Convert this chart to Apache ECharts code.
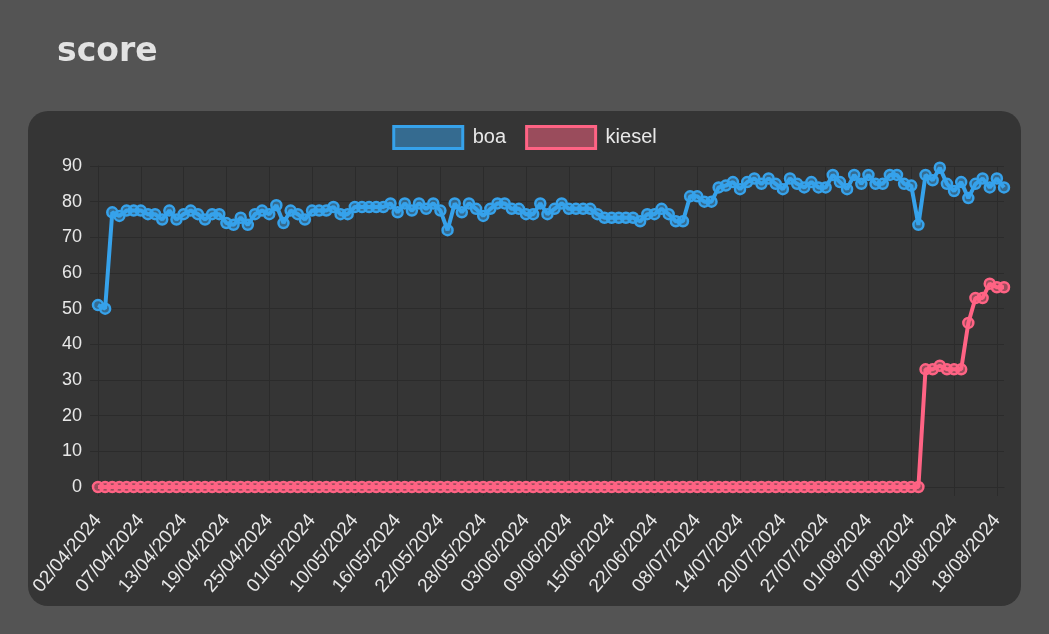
<!DOCTYPE html>
<html>
<head>
<meta charset="utf-8">
<script src="https://cdn.jsdelivr.net/npm/echarts@6/dist/echarts.min.js"></script>
<style>
html,body{margin:0;padding:0;background:#545454;}
#chart{width:1049px;height:634px;}
</style>
</head>
<body>
<div id="chart"></div>
<script>
const titleText = 'score';
const seriesNames = ['boa', 'kiesel'];
const dates = [
  '02/04/2024','03/04/2024','04/04/2024','05/04/2024','05/04/2024','06/04/2024',
  '07/04/2024','08/04/2024','09/04/2024','10/04/2024','11/04/2024','12/04/2024',
  '13/04/2024','14/04/2024','15/04/2024','16/04/2024','17/04/2024','18/04/2024',
  '19/04/2024','20/04/2024','21/04/2024','22/04/2024','23/04/2024','24/04/2024',
  '25/04/2024','26/04/2024','27/04/2024','28/04/2024','29/04/2024','30/04/2024',
  '01/05/2024','02/05/2024','04/05/2024','06/05/2024','08/05/2024','09/05/2024',
  '10/05/2024','11/05/2024','12/05/2024','13/05/2024','14/05/2024','15/05/2024',
  '16/05/2024','17/05/2024','18/05/2024','19/05/2024','20/05/2024','21/05/2024',
  '22/05/2024','23/05/2024','24/05/2024','25/05/2024','26/05/2024','27/05/2024',
  '28/05/2024','29/05/2024','30/05/2024','31/05/2024','01/06/2024','02/06/2024',
  '03/06/2024','04/06/2024','05/06/2024','06/06/2024','07/06/2024','08/06/2024',
  '09/06/2024','10/06/2024','11/06/2024','12/06/2024','13/06/2024','14/06/2024',
  '15/06/2024','16/06/2024','17/06/2024','18/06/2024','19/06/2024','21/06/2024',
  '22/06/2024','24/06/2024','26/06/2024','29/06/2024','02/07/2024','05/07/2024',
  '08/07/2024','09/07/2024','10/07/2024','11/07/2024','12/07/2024','13/07/2024',
  '14/07/2024','15/07/2024','16/07/2024','17/07/2024','18/07/2024','19/07/2024',
  '20/07/2024','21/07/2024','22/07/2024','23/07/2024','24/07/2024','26/07/2024',
  '27/07/2024','28/07/2024','29/07/2024','30/07/2024','31/07/2024','31/07/2024',
  '01/08/2024','02/08/2024','03/08/2024','04/08/2024','05/08/2024','06/08/2024',
  '07/08/2024','08/08/2024','09/08/2024','10/08/2024','11/08/2024','11/08/2024',
  '12/08/2024','13/08/2024','14/08/2024','15/08/2024','16/08/2024','17/08/2024',
  '18/08/2024','19/08/2024'
];
const boa = [
  51, 50, 77, 76, 77.5, 77.5, 77.5, 76.5, 76.5, 75,
  77.5, 75, 76.5, 77.5, 76.5, 75, 76.5, 76.5, 74, 73.5,
  75.5, 73.5, 76.5, 77.5, 76.5, 79, 74, 77.5, 76.5, 75,
  77.5, 77.5, 77.5, 78.5, 76.5, 76.5, 78.5, 78.5, 78.5, 78.5,
  78.5, 79.5, 77, 79.5, 77.5, 79.5, 78, 79.5, 77.5, 72,
  79.5, 77, 79.5, 78, 76, 78, 79.5, 79.5, 78, 78,
  76.5, 76.5, 79.5, 76.5, 78, 79.5, 78, 78, 78, 78,
  76.5, 75.5, 75.5, 75.5, 75.5, 75.5, 74.5, 76.5, 76.5, 78,
  76.5, 74.5, 74.5, 81.5, 81.5, 80, 80, 84, 84.5, 85.5,
  83.5, 85.5, 86.5, 85, 86.5, 85, 83.5, 86.5, 85, 84,
  85.5, 84, 84, 87.5, 85.5, 83.5, 87.5, 85, 87.5, 85,
  85, 87.5, 87.5, 85, 84.5, 73.5, 87.5, 86, 89.5, 85,
  83, 85.5, 81, 85, 86.5, 84, 86.5, 84
];
const kiesel = [
  0, 0, 0, 0, 0, 0, 0, 0, 0, 0,
  0, 0, 0, 0, 0, 0, 0, 0, 0, 0,
  0, 0, 0, 0, 0, 0, 0, 0, 0, 0,
  0, 0, 0, 0, 0, 0, 0, 0, 0, 0,
  0, 0, 0, 0, 0, 0, 0, 0, 0, 0,
  0, 0, 0, 0, 0, 0, 0, 0, 0, 0,
  0, 0, 0, 0, 0, 0, 0, 0, 0, 0,
  0, 0, 0, 0, 0, 0, 0, 0, 0, 0,
  0, 0, 0, 0, 0, 0, 0, 0, 0, 0,
  0, 0, 0, 0, 0, 0, 0, 0, 0, 0,
  0, 0, 0, 0, 0, 0, 0, 0, 0, 0,
  0, 0, 0, 0, 0, 0, 33, 33, 34, 33,
  33, 33, 46, 53, 53, 57, 56, 56
];
const yTicks = { min: 0, max: 90, interval: 10 };

const colors = ['#36a2eb', '#ff6384'];
const fills = ['rgba(54,162,235,0.5)', 'rgba(255,99,132,0.5)'];
const gridColor = '#2b2b2b';
const textColor = '#e8e8e8';
const font = "'Liberation Sans', Arial, sans-serif";

const chart = echarts.init(document.getElementById('chart'), null, { renderer: 'canvas' });

function makeSeries(name, data, i) {
  return {
    name: name,
    type: 'line',
    data: data,
    showAllSymbol: true,
    symbol: 'circle',
    symbolSize: 10,
    lineStyle: { color: colors[i], width: 4 },
    itemStyle: { color: fills[i], borderColor: colors[i], borderWidth: 2.5 },
    emphasis: { disabled: true },
    animation: false
  };
}

chart.setOption({
  backgroundColor: '#545454',
  animation: false,
  title: {
    text: titleText,
    left: 52,
    top: 31,
    textStyle: { fontFamily: "'DejaVu Sans', sans-serif", fontWeight: 'bold', fontSize: 33, color: '#e2e2e2' }
  },
  graphic: [{
    type: 'rect',
    z: -10,
    silent: true,
    shape: { x: 28, y: 111, width: 993, height: 495, r: 20 },
    style: { fill: '#353535' }
  }],
  legend: {
    top: 120,
    left: 'center',
    icon: 'rect',
    itemWidth: 69,
    itemHeight: 22,
    itemGap: 19,
    textStyle: { color: textColor, fontSize: 20, fontFamily: font, padding: [0, 0, 0, 5] },
    data: seriesNames.map((n, i) => ({
      name: n,
      itemStyle: { color: fills[i], borderColor: colors[i], borderWidth: 3 }
    }))
  },
  grid: { left: 98, right: 45, top: 166, bottom: 147, containLabel: false },
  xAxis: {
    type: 'category',
    data: dates,
    boundaryGap: false,
    axisLine: { show: true, lineStyle: { color: gridColor, width: 1 } },
    axisTick: { show: true, interval: 5, length: 9, lineStyle: { color: gridColor } },
    splitLine: { show: true, interval: 5, lineStyle: { color: gridColor, width: 1 } },
    axisLabel: {
      interval: 5,
      rotate: 50,
      margin: 30,
      color: textColor,
      fontSize: 19,
      fontFamily: font
    }
  },
  yAxis: {
    type: 'value',
    min: yTicks.min,
    max: yTicks.max,
    interval: yTicks.interval,
    axisLine: { show: true, lineStyle: { color: gridColor, width: 1 } },
    axisTick: { show: true, length: 8, lineStyle: { color: gridColor } },
    splitLine: { show: true, lineStyle: { color: gridColor, width: 1 } },
    axisLabel: { margin: 16, color: textColor, fontSize: 18, fontFamily: font }
  },
  series: [makeSeries(seriesNames[0], boa, 0), makeSeries(seriesNames[1], kiesel, 1)]
});
</script>
</body>
</html>
